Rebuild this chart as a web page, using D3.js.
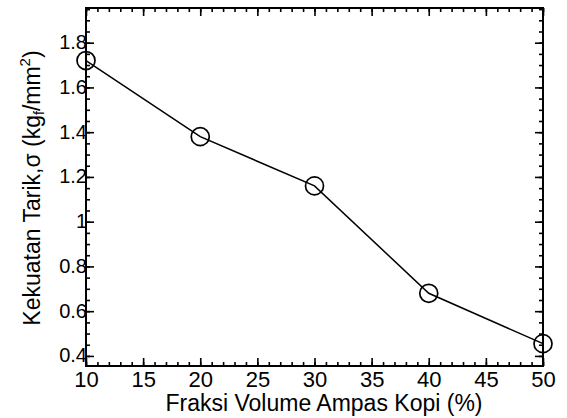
<!DOCTYPE html>
<html>
<head>
<meta charset="utf-8">
<script src="https://cdn.jsdelivr.net/npm/d3@7"></script>
<style>
body { margin: 0; background: #fff; }
text { font-family: "Liberation Sans", Arial, sans-serif; fill: #000; }
</style>
</head>
<body>
<svg id="chart"></svg>
<script>
// data
var fraksi = [10, 20, 30, 40, 50];
var kekuatan = [1.72, 1.38, 1.16, 0.68, 0.455];
var xTicks = [10, 15, 20, 25, 30, 35, 40, 45, 50];
var yTicks = [0.4, 0.6, 0.8, 1.0, 1.2, 1.4, 1.6, 1.8];

var width = 567, height = 418;
var plotL = 86, plotR = 543, plotT = 8, plotB = 366;

var svg = d3.select('svg#chart')
    .attr('width', width)
    .attr('height', height);

var x = d3.scaleLinear().domain([10, 50]).range([plotL, plotR]);
var y = d3.scaleLinear().domain([0.355, 1.955]).range([plotB, plotT]);

var xMinor = d3.range(10, 51, 1);
var yMinor = d3.range(0.4, 1.96, 0.05);

function drawTicks(axis, tr) {
    var g = svg.append('g').attr('transform', tr).call(axis);
    g.select('.domain').remove();
    g.selectAll('.tick line').attr('stroke', '#000').attr('stroke-width', 1.6);
    return g;
}

// minor ticks, all four sides, pointing inward
drawTicks(d3.axisBottom(x).tickValues(xMinor).tickSize(-4).tickFormat(''), 'translate(0,' + plotB + ')');
drawTicks(d3.axisTop(x).tickValues(xMinor).tickSize(-4).tickFormat(''), 'translate(0,' + plotT + ')');
drawTicks(d3.axisLeft(y).tickValues(yMinor).tickSize(-4).tickFormat(''), 'translate(' + plotL + ',0)');
drawTicks(d3.axisRight(y).tickValues(yMinor).tickSize(-4).tickFormat(''), 'translate(' + plotR + ',0)');

// major ticks
var gx = drawTicks(d3.axisBottom(x).tickValues(xTicks).tickSize(-8).tickFormat(d3.format('d')), 'translate(0,' + plotB + ')');
gx.selectAll('text').attr('font-size', 22).attr('y', 5).attr('dy', '0.71em');
drawTicks(d3.axisTop(x).tickValues(xTicks).tickSize(-8).tickFormat(''), 'translate(0,' + plotT + ')');
var gy = drawTicks(d3.axisLeft(y).tickValues(yTicks).tickSize(-8).tickFormat(function(d){ return d === 1 ? '1' : d3.format('.1f')(d); }), 'translate(' + plotL + ',0)');
gy.selectAll('text').attr('font-size', 20).attr('x', 1).attr('dy', '0.3em');
drawTicks(d3.axisRight(y).tickValues(yTicks).tickSize(-8).tickFormat(''), 'translate(' + plotR + ',0)');

// frame
svg.append('rect')
    .attr('x', plotL).attr('y', plotT)
    .attr('width', plotR - plotL).attr('height', plotB - plotT)
    .attr('fill', 'none').attr('stroke', '#000').attr('stroke-width', 2);

// line + markers
var pts = fraksi.map(function(d, i){ return [d, kekuatan[i]]; });
svg.append('path')
    .datum(pts)
    .attr('fill', 'none')
    .attr('stroke', '#000')
    .attr('stroke-width', 1.5)
    .attr('d', d3.line().x(function(d){ return x(d[0]); }).y(function(d){ return y(d[1]); }));

svg.append('g').selectAll('circle')
    .data(pts)
    .enter().append('circle')
    .attr('cx', function(d){ return x(d[0]); })
    .attr('cy', function(d){ return y(d[1]); })
    .attr('r', 9)
    .attr('fill', 'none')
    .attr('stroke', '#000')
    .attr('stroke-width', 1.7);

// axis titles
svg.append('text')
    .attr('x', 324).attr('y', 411)
    .attr('text-anchor', 'middle')
    .attr('font-size', 23)
    .text('Fraksi Volume Ampas Kopi (%)');

var yt = svg.append('text')
    .attr('transform', 'translate(40,188) rotate(-90)')
    .attr('text-anchor', 'middle')
    .attr('font-size', 23);
yt.append('tspan').text('Kekuatan Tarik,\u03c3 (kg');
yt.append('tspan').attr('font-size', 14).attr('baseline-shift', '-25%').text('f');
yt.append('tspan').text('/mm');
yt.append('tspan').attr('font-size', 15).attr('baseline-shift', '70%').text('2');
yt.append('tspan').text(')');
</script>
</body>
</html>
